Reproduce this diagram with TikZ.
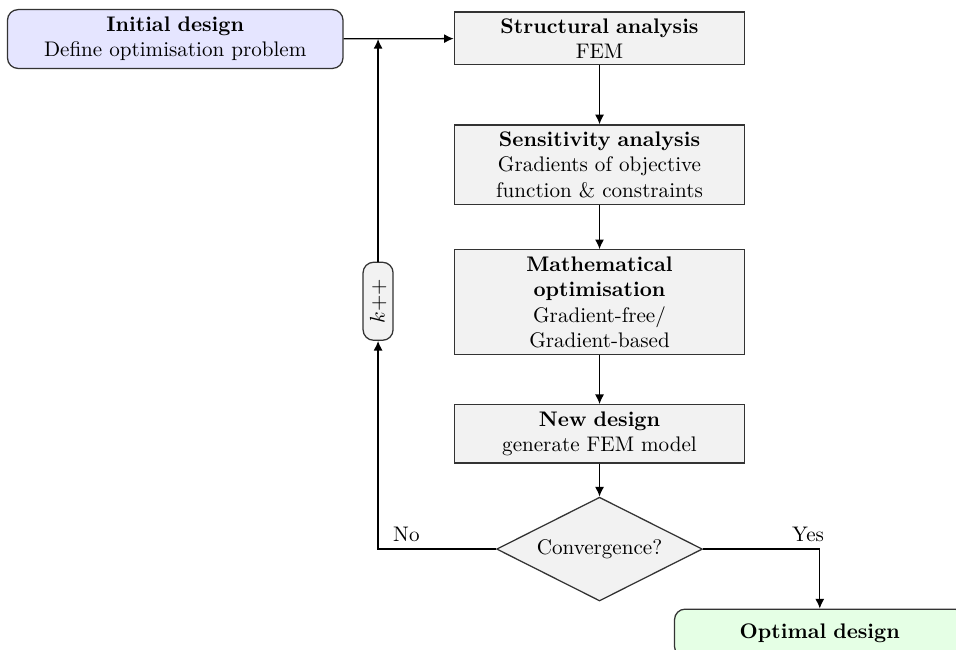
\documentclass[tikz,border=0pt]{standalone}
\usetikzlibrary{shapes.geometric,positioning,arrows.meta}
\begin{document}
\begin{tikzpicture}[>={Latex[length=1.6mm,width=1.5mm]}, semithick,
  process/.style={rectangle, draw=black!80, fill=gray!10, text width=4.7cm, inner sep=2pt, align=center},
  startstop/.style={rectangle, rounded corners=5pt, draw=black!80, align=center, inner sep=2pt},
  decision/.style={diamond, aspect=2, draw=black!80, fill=gray!10, minimum width=3.43cm, minimum height=1.73cm, inner sep=1pt},
  counter/.style={rectangle, rounded corners=5pt, draw=black!80, fill=gray!10, rotate=90, minimum width=1.3cm, minimum height=0.5cm, inner sep=1pt},
  ]
\useasboundingbox (0,0) rectangle (15.93,-10.82);
\node[startstop, fill=blue!10, text width=5.45cm, minimum height=0.98cm] (init) at (2.92,-0.65) {\textbf{Initial design}\\Define optimisation problem};
\node[process, minimum height=0.88cm] (struct) at (9.99,-0.64) {\textbf{Structural analysis}\\FEM};
\node[process, minimum height=1.33cm, below=0.98cm of struct] (sens) {\textbf{Sensitivity analysis}\\Gradients of objective\\function \& constraints};
\node[process, minimum height=1.75cm, below=0.73cm of sens] (math) {\textbf{Mathematical}\\\textbf{optimisation}\\Gradient-free/\\Gradient-based};
\node[process, minimum height=0.97cm, below=0.81cm of math] (new) {\textbf{New design}\\generate FEM model};
\node[decision, below=0.55cm of new] (conv) {Convergence?};
\node[counter] (kpp) at (6.3,-5.02) {$k{+}{+}$};
\node[startstop, fill=green!10, text width=4.7cm, minimum height=0.8cm] (opt) at (13.66,-10.55) {\textbf{Optimal design}};
\draw[->] (init) -- (struct);
\draw[->] (struct) -- (sens);
\draw[->] (sens) -- (math);
\draw[->] (math) -- (new);
\draw[->] (new) -- (conv);
\draw[->] (conv.west) -| node[pos=0.38, above] {No} (kpp);
\draw[->] (kpp) -- (kpp |- init);
\draw[->] (conv.east) -| node[pos=0.45, above] {Yes} (opt);
\end{tikzpicture}
\end{document}
